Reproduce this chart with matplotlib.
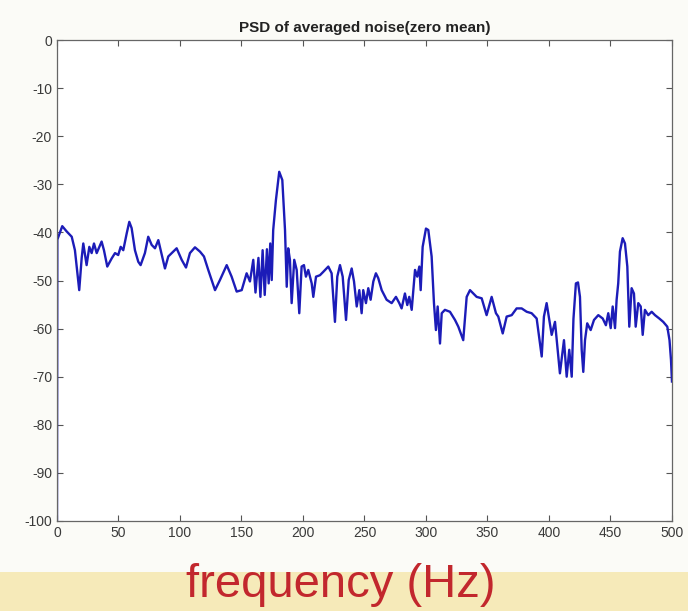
import numpy as np
import matplotlib
matplotlib.use("Agg")
import matplotlib.pyplot as plt
from matplotlib.patches import Rectangle

# PSD trace (frequency in Hz, power in dB)
freq_hz = [
    0.0, 0.3, 4.3, 7.9, 12.0, 14.6, 18.1, 20.1, 21.4, 24.1, 26.3, 28.2, 30.1,
    32.3, 36.3, 38.2, 40.9, 44.5, 47.2, 49.8, 51.8, 53.9, 56.7, 58.8, 60.7,
    63.4, 66.1, 68.0, 71.5, 74.2, 77.0, 79.7, 82.4, 83.7, 87.8, 90.5, 93.3,
    97.3, 101.4, 104.9, 108.1, 112.2, 116.3, 119.5, 123.0, 128.5, 132.5,
    138.0, 142.0, 146.1, 150.2, 154.2, 156.9, 159.6, 161.4, 163.8, 165.4,
    167.2, 168.9, 170.7, 172.1, 173.4, 174.6, 175.8, 178.0, 180.7, 183.2,
    185.4, 186.8, 188.0, 189.4, 190.8, 192.9, 194.9, 197.0, 198.9, 200.8,
    202.4, 204.3, 207.1, 208.4, 210.6, 213.8, 216.5, 220.6, 223.3, 226.0,
    227.9, 230.1, 232.3, 235.0, 237.2, 239.6, 241.5, 243.7, 245.8, 247.7,
    249.0, 251.2, 253.1, 255.0, 257.2, 259.3, 261.2, 264.0, 268.0, 272.1,
    275.6, 278.3, 280.2, 282.9, 284.8, 286.4, 288.4, 291.1, 292.9, 294.6,
    295.7, 297.3, 300.0, 301.9, 304.6, 306.5, 308.1, 309.5, 311.4, 312.8,
    315.4, 319.5, 323.6, 326.3, 330.3, 333.1, 335.8, 341.2, 345.3, 349.3,
    353.4, 356.9, 358.8, 362.4, 365.6, 369.7, 373.7, 377.8, 381.9, 385.9,
    390.0, 394.1, 395.9, 398.1, 402.2, 404.9, 408.9, 412.2, 414.4, 416.5,
    418.5, 419.9, 421.9, 423.6, 425.2, 426.6, 427.9, 429.3, 431.1, 433.9,
    436.6, 440.1, 443.7, 446.3, 448.2, 450.2, 451.8, 453.7, 455.0, 456.3,
    457.7, 459.9, 461.8, 463.7, 465.3, 467.2, 469.1, 470.5, 472.6, 474.6,
    476.2, 478.0, 480.7, 483.5, 486.2, 489.7, 492.9, 496.2, 498.0, 499.2,
    500.0,
]
psd_db = [
    -100, -41.5, -38.7, -39.8, -40.9, -43.7, -52.0, -45.3, -42.3, -46.8, -43.0,
    -44.3, -42.3, -44.3, -41.9, -43.7, -47.1, -45.4, -44.3, -44.7, -43.0,
    -43.7, -40.2, -37.8, -39.1, -43.7, -46.1, -46.8, -44.3, -40.9, -42.6,
    -43.3, -41.6, -43.0, -47.5, -45.0, -44.3, -43.3, -45.7, -47.3, -44.3,
    -43.1, -44.0, -45.0, -47.8, -52.0, -49.9, -46.8, -49.2, -52.3, -52.0,
    -48.5, -50.2, -45.7, -52.5, -45.3, -53.4, -43.7, -53.0, -43.5, -50.6,
    -42.3, -49.9, -39.5, -33.3, -27.4, -29.1, -39.5, -51.3, -43.3, -45.7,
    -54.7, -45.7, -47.8, -56.8, -47.1, -46.8, -49.2, -47.8, -50.6, -53.4,
    -49.2, -48.9, -48.2, -47.1, -48.5, -58.6, -49.2, -46.8, -49.2, -58.2,
    -49.9, -47.5, -50.2, -55.4, -52.0, -56.8, -52.0, -54.7, -51.6, -54.0,
    -50.2, -48.5, -49.5, -52.0, -54.0, -54.7, -53.4, -54.7, -55.8, -52.7,
    -55.1, -53.4, -56.1, -47.8, -49.2, -47.1, -52.0, -43.0, -39.2, -39.5,
    -45.0, -54.7, -60.3, -55.4, -63.1, -56.8, -56.1, -56.5, -58.2, -59.6,
    -62.4, -53.4, -52.0, -53.4, -53.7, -57.2, -53.4, -56.8, -57.5, -61.0,
    -57.5, -57.2, -55.8, -55.8, -56.5, -56.8, -57.9, -65.8, -57.5, -54.7,
    -61.3, -58.6, -69.3, -62.4, -70.0, -64.4, -70.0, -58.0, -50.6, -50.4,
    -53.4, -64.4, -69.0, -62.4, -58.9, -60.3, -58.2, -57.2, -57.9, -59.3,
    -56.8, -59.9, -55.4, -59.9, -54.0, -50.6, -44.0, -41.2, -42.3, -47.1,
    -59.6, -51.6, -52.7, -59.6, -54.7, -55.4, -61.3, -56.1, -57.2, -56.5,
    -57.2, -57.9, -58.6, -59.6, -62.4, -66.5, -71.0,
]

x_ticks = [0, 50, 100, 150, 200, 250, 300, 350, 400, 450, 500]
y_ticks = [0, -10, -20, -30, -40, -50, -60, -70, -80, -90, -100]

plt.rcParams['font.family'] = ['Liberation Sans', 'DejaVu Sans']
plt.rcParams['axes.unicode_minus'] = False

fig = plt.figure(figsize=(6.88, 6.11), dpi=100)
fig.patch.set_facecolor('#fbfbf7')

# yellowish band at the bottom of the video frame
fig.patches.append(Rectangle((0, 0), 1, 0.064, transform=fig.transFigure,
                             facecolor='#f6eab9', edgecolor='none', zorder=0))

ax = fig.add_axes([0.0828, 0.1473, 0.8939, 0.7872])
ax.set_facecolor('white')
ax.plot(freq_hz, psd_db, color='#1c1cb8', linewidth=1.7)

ax.set_xlim(0, 500)
ax.set_ylim(-100, 0)
ax.set_xticks(x_ticks)
ax.set_yticks(y_ticks)
ax.tick_params(direction='in', top=True, right=True, length=4, width=0.8,
               colors='#555555', labelcolor='#3a3a3a', labelsize=10)
for s in ax.spines.values():
    s.set_color('#666666')
    s.set_linewidth(0.9)

ax.set_title('PSD of averaged noise(zero mean)', fontsize=11, fontweight='bold',
             color='#222222', pad=6)

fig.text(0.495, 0.043, 'frequency (Hz)', ha='center', va='center',
         fontsize=34, color='#c2272d')

fig.savefig('out.png', dpi=100, facecolor=fig.get_facecolor())
